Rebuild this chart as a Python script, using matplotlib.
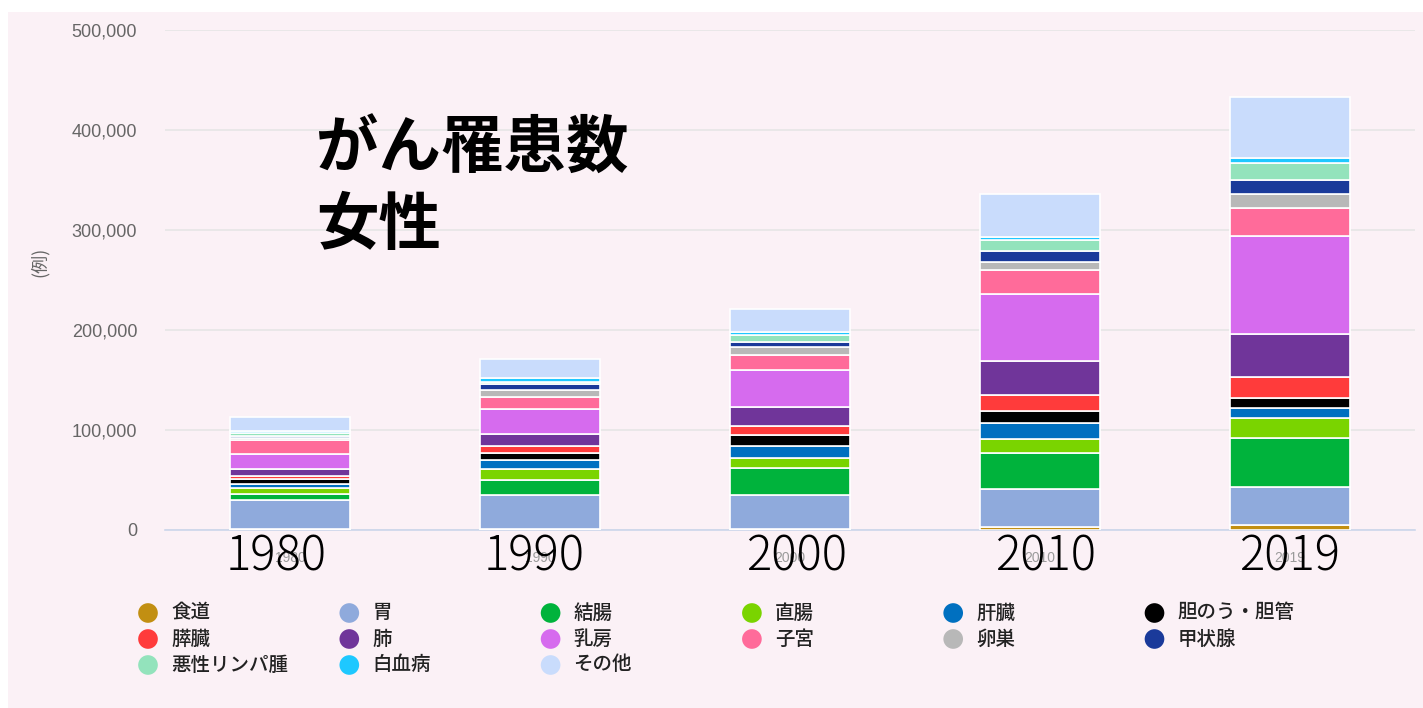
import numpy as np
import matplotlib
matplotlib.use('Agg')
import matplotlib.pyplot as plt
from matplotlib.patches import Rectangle
from matplotlib.ticker import FuncFormatter
import matplotlib.transforms as mtransforms

plt.rcParams['font.family'] = ['Noto Sans CJK JP', 'DejaVu Sans']

# データ（女性のがん罹患数, 例）
years = ['1980', '1990', '2000', '2010', '2019']
sites = ['食道', '胃', '結腸', '直腸', '肝臓', '胆のう・胆管',
         '膵臓', '肺', '乳房', '子宮', '卵巣', '甲状腺',
         '悪性リンパ腫', '白血病', 'その他']
colors = ['#C28F12', '#8FAADC', '#00B33C', '#7AD400', '#0070C0', '#000000',
          '#FF3B3B', '#70359A', '#D66BEE', '#FF6B9A', '#B8B8B8', '#1A3A9A',
          '#93E3BC', '#1EC8FF', '#C9DCFC']

shokudo = [800, 1000, 1500, 2700, 5000]
i_ = [29000, 34000, 33500, 38000, 38300]
ketcho = [6700, 15000, 26700, 36600, 48400]
chokucho = [6000, 11000, 10000, 13700, 20000]
kanzo = [3300, 8700, 12600, 15700, 10000]
tanno = [5000, 7000, 10700, 12600, 10600]
suizo = [3700, 7300, 9000, 15700, 21000]
hai = [7000, 12300, 18700, 34000, 42400]
nyubo = [14300, 24400, 37300, 66700, 98300]
shikyu = [14000, 12000, 15000, 24300, 27700]
ransou = [2700, 7300, 7700, 8300, 14000]
kojosen = [2000, 5700, 5600, 11000, 14300]
lymph = [3000, 2000, 6700, 10700, 17300]
hakketsu = [2000, 4600, 3300, 3300, 5000]
sonota = [13300, 18400, 22700, 42400, 60400]

series = [shokudo, i_, ketcho, chokucho, kanzo, tanno, suizo, hai,
          nyubo, shikyu, ransou, kojosen, lymph, hakketsu, sonota]

bg = '#FBF1F6'

fig = plt.figure(figsize=(14.23, 7.08), dpi=100, facecolor='white')
fig.patches.append(Rectangle((8 / 1423, 0), 1, 1 - 12 / 708,
                             transform=fig.transFigure, facecolor=bg,
                             edgecolor='none', zorder=-10))

ax = fig.add_axes([165 / 1423, 1 - 530 / 708, 1250 / 1423, 500 / 708])
ax.set_facecolor(bg)

x = np.arange(len(years))
bottom = np.zeros(len(years))
for name, vals, c in zip(sites, series, colors):
    ax.bar(x, vals, bottom=bottom, width=0.48, color=c,
           edgecolor='white', linewidth=1.2, zorder=3)
    bottom += np.array(vals)

ax.set_xlim(-0.5, 4.5)
ax.set_ylim(0, 500000)
ax.set_yticks(np.arange(0, 500001, 100000))
ax.yaxis.set_major_formatter(FuncFormatter(lambda v, p: f'{int(v):,}'))
ax.grid(axis='y', color='#E6E6E6', linewidth=1.2, zorder=0)
ax.tick_params(axis='y', length=0, pad=20, labelcolor='#666666')
ax.tick_params(axis='x', length=0, pad=15, labelcolor='#9a9a9a')
for lab in ax.get_yticklabels():
    lab.set_fontfamily(['Liberation Sans', 'DejaVu Sans'])
    lab.set_fontsize(13)
ax.set_xticks(x)
ax.set_xticklabels(years, fontsize=10, family=['Liberation Sans', 'DejaVu Sans'])
for s in ['top', 'right', 'left']:
    ax.spines[s].set_visible(False)
ax.spines['bottom'].set_color('#CCD6EB')
ax.spines['bottom'].set_linewidth(1.2)

fig.text(40 / 1423, 1 - 262 / 708, '(例)', rotation=90, ha='center',
         va='center', fontsize=13, color='#666666')

# 大きな年ラベル（手書き風に少しずれて重ねてある）
label_shift = [-0.056, -0.024, 0.028, 0.024, 0.0]
trans = mtransforms.blended_transform_factory(ax.transData, ax.transAxes)
for xi, y, dx in zip(x, years, label_shift):
    ax.text(xi + dx, -0.054, y, transform=trans, ha='center', va='center',
            fontsize=34, fontweight='light', color='black')

# タイトル
fig.text(316 / 1423, 1 - 118 / 708, 'がん罹患数\n女性', ha='left', va='top',
         fontsize=45, fontweight='bold', color='black', linespacing=1.25)

# 凡例
lax = fig.add_axes([0, 0, 1, 1])
lax.set_xlim(0, 1423)
lax.set_ylim(708, 0)
lax.axis('off')
for k, (name, c) in enumerate(zip(sites, colors)):
    row, col = divmod(k, 6)
    cx = 148 + col * 201.3
    cy = 613 + row * 26
    lax.scatter([cx], [cy], s=200, color=c, edgecolors='none')
    lax.text(cx + 23, cy, name, ha='left', va='center', fontsize=14,
             fontweight='medium', color='#222222')

fig.savefig('out.png', dpi=100, facecolor=fig.get_facecolor())
